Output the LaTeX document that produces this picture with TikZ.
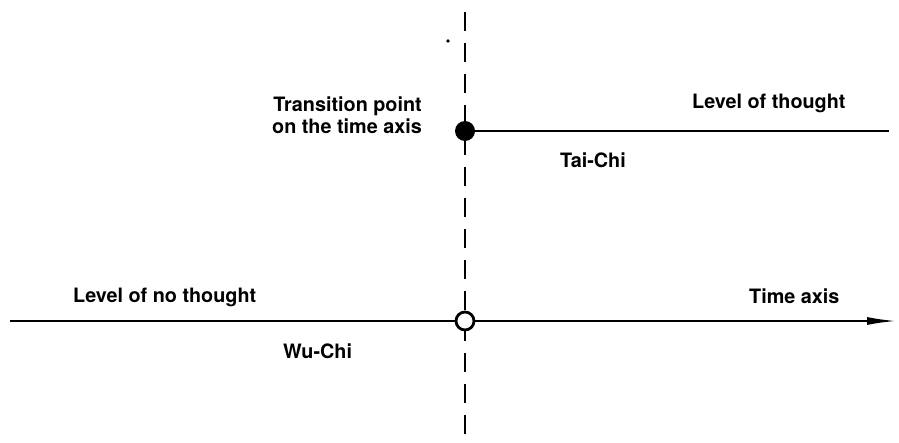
\documentclass[tikz,border=0pt]{standalone}
\usepackage{fontspec}
\setmainfont{TeX Gyre Heros}
\usetikzlibrary{arrows.meta}
\begin{document}
\begin{tikzpicture}[x=1pt,y=-1pt,
  lbl/.style={font=\bfseries\fontsize{19.8}{22}\selectfont, inner sep=0pt},
  axisline/.style={line width=2.2pt},
  dashaxis/.style={line width=2.8pt, dash pattern=on 19pt off 12pt}]
\useasboundingbox (0,0) rectangle (899,443);
% vertical dashed line
\coordinate (vtop) at (465,12);
\coordinate (vbot) at (465,441);
\draw[dashaxis] (vtop) -- (vbot);
% points
\node[circle, fill=black, minimum size=20pt, inner sep=0pt] (tp) at (465,131) {};
\node[circle, draw=black, fill=white, line width=2.8pt, minimum size=18pt, inner sep=0pt] (op) at (465,321) {};
\fill (448,41) circle (1.8pt);
% level of thought line
\coordinate (tend) at (889,131);
\draw[axisline] (tp.center) -- (tend);
% time axis
\coordinate (tstart) at (10,321);
\coordinate (tarrow) at (897,321);
\draw[axisline] (tstart) -- (op.west);
\draw[axisline, -{Latex[length=30pt,width=8pt]}] (op.east) -- (tarrow);
% labels
\node[lbl, align=right, anchor=east] (trans) at (422,115) {Transition point\\on the time axis};
\node[lbl, anchor=west] (lot) at (692,103) {Level of thought};
\node[lbl, anchor=west] (tai) at (560,160) {Tai-Chi};
\node[lbl, anchor=west] (lnt) at (73,297) {Level of no thought};
\node[lbl, anchor=west] (time) at (749,296) {Time axis};
\node[lbl, anchor=west] (wu) at (283,351) {Wu-Chi};
\end{tikzpicture}
\end{document}
